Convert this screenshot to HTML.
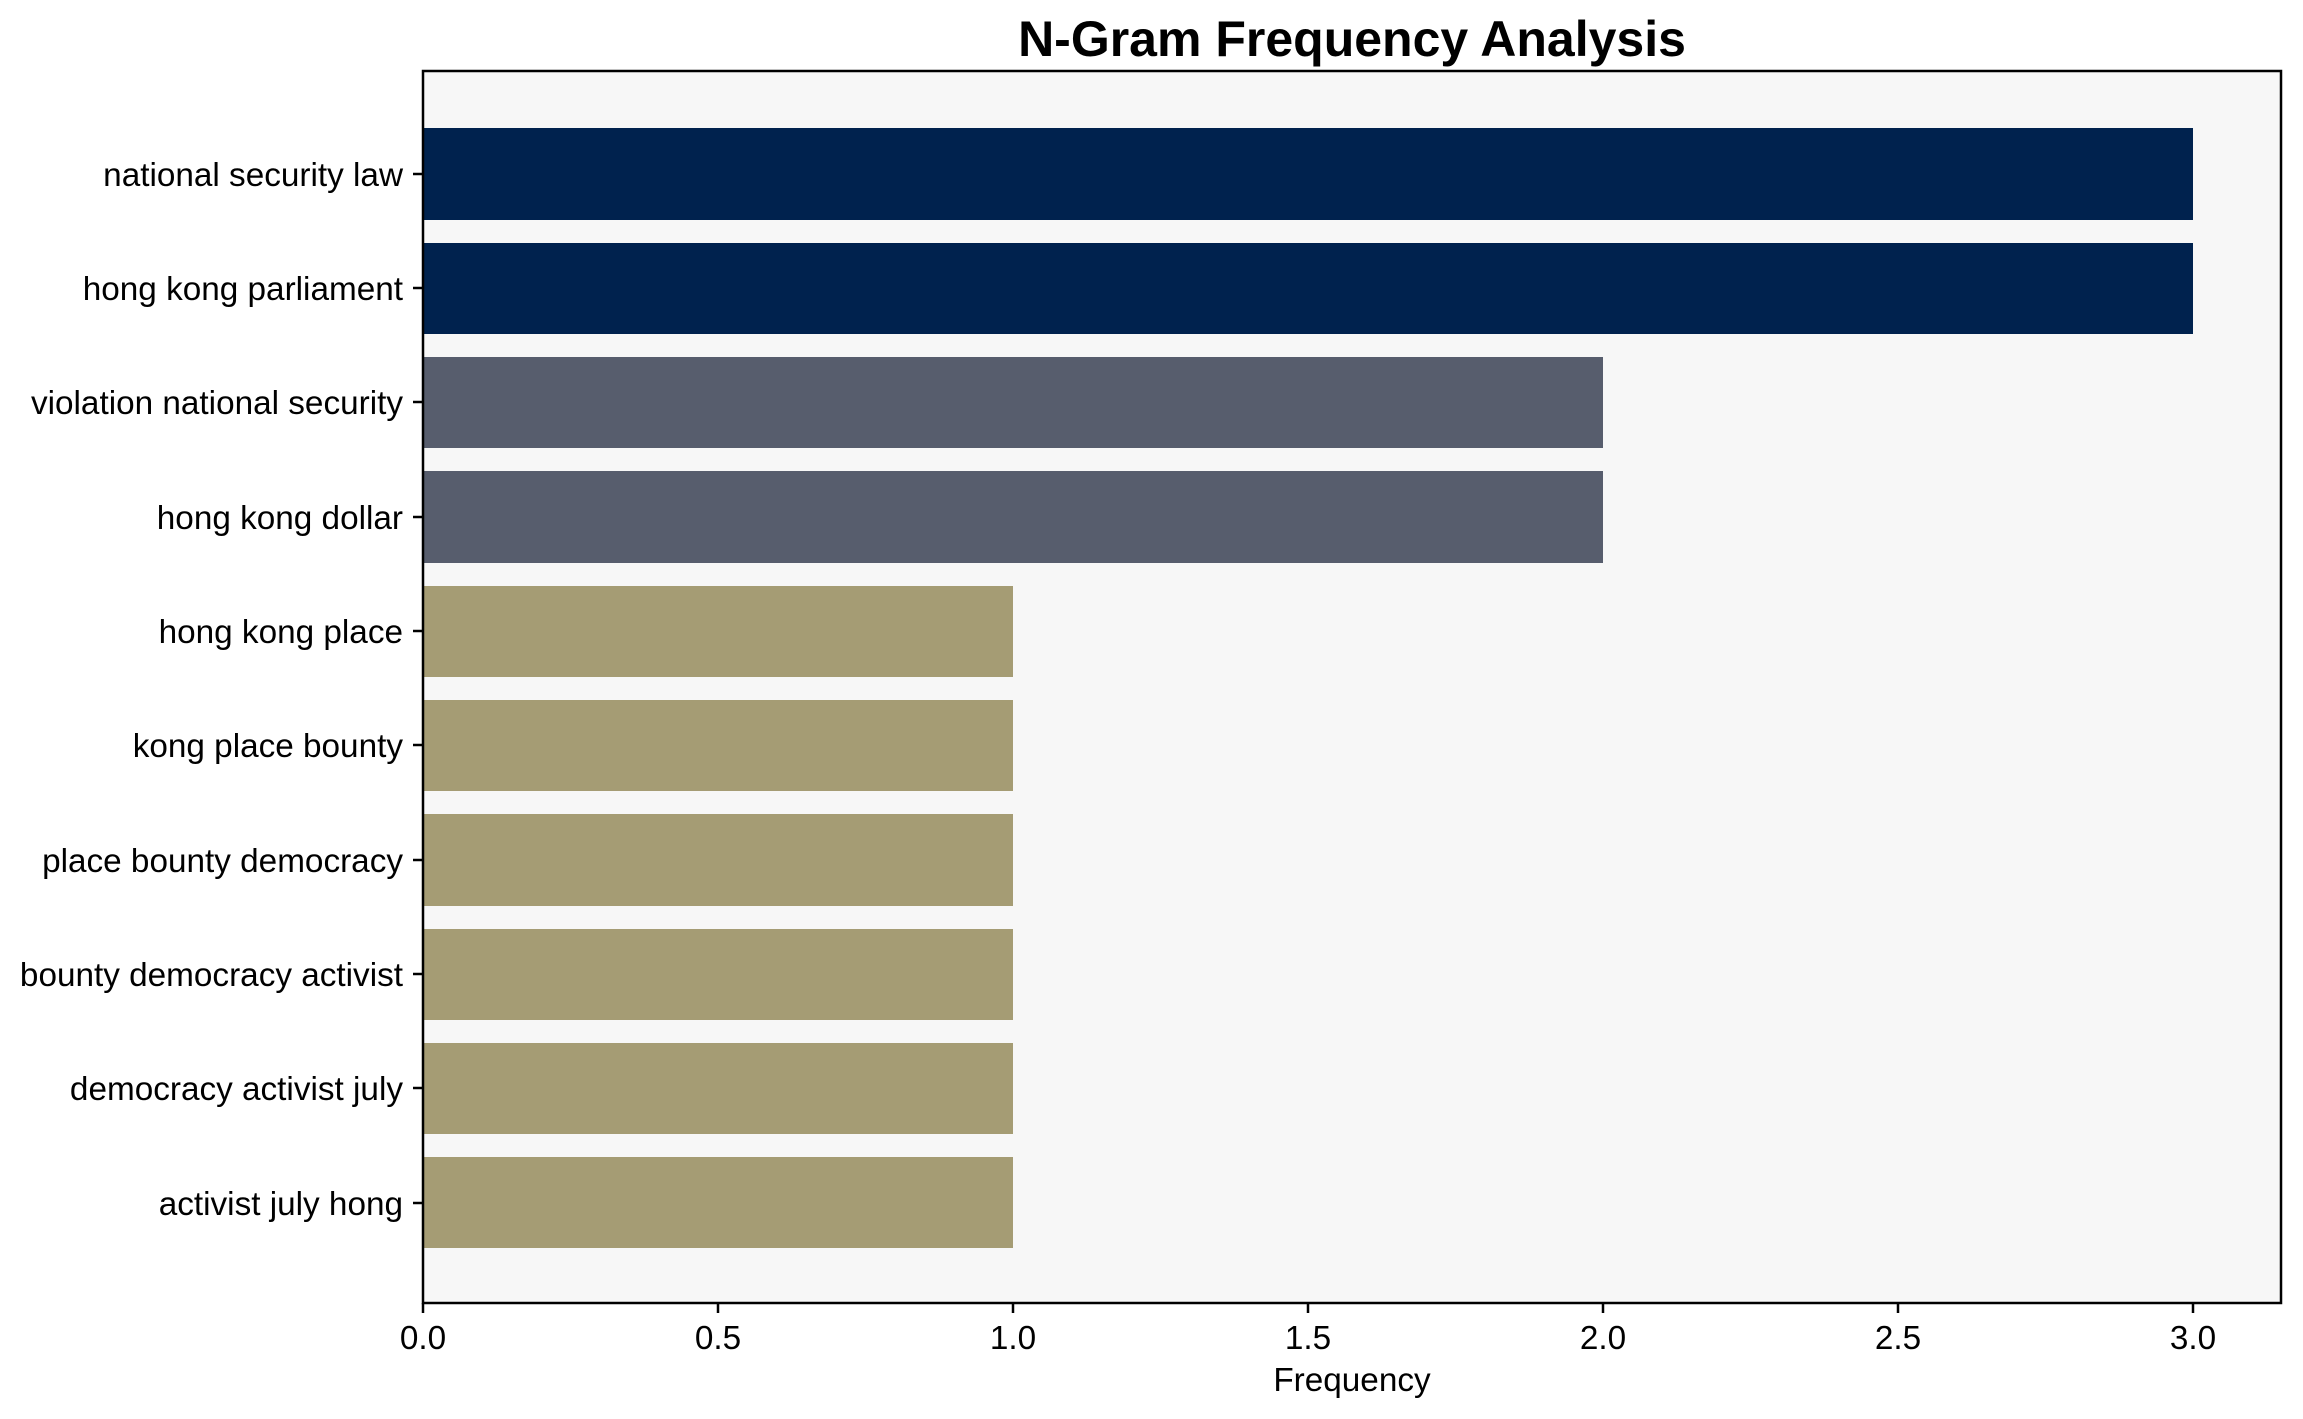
<!DOCTYPE html>
<html><head><meta charset="utf-8"><style>html,body{margin:0;padding:0;background:#fff}</style></head>
<body>
<svg width="2303" height="1414" xmlns="http://www.w3.org/2000/svg" font-family="Liberation Sans, Arial, sans-serif">
<rect x="0" y="0" width="2303" height="1414" fill="#fff"/>
<rect x="423" y="71" width="1858" height="1232" fill="#f7f7f7"/>
<g>
<rect x="423" y="128" width="1770" height="92" fill="#00224e"/>
<rect x="423" y="243" width="1770" height="91" fill="#00224e"/>
<rect x="423" y="357" width="1180" height="91" fill="#575d6d"/>
<rect x="423" y="471" width="1180" height="92" fill="#575d6d"/>
<rect x="423" y="586" width="590" height="91" fill="#a59c74"/>
<rect x="423" y="700" width="590" height="91" fill="#a59c74"/>
<rect x="423" y="814" width="590" height="92" fill="#a59c74"/>
<rect x="423" y="929" width="590" height="91" fill="#a59c74"/>
<rect x="423" y="1043" width="590" height="91" fill="#a59c74"/>
<rect x="423" y="1157" width="590" height="91" fill="#a59c74"/>
</g>
<rect x="423" y="71" width="1858" height="1232" fill="none" stroke="#000" stroke-width="2.5"/>
<g stroke="#000" stroke-width="2.5">
<line x1="413" x2="423" y1="174" y2="174"/><line x1="413" x2="423" y1="288" y2="288"/>
<line x1="413" x2="423" y1="402" y2="402"/><line x1="413" x2="423" y1="517" y2="517"/>
<line x1="413" x2="423" y1="631" y2="631"/><line x1="413" x2="423" y1="745" y2="745"/>
<line x1="413" x2="423" y1="860" y2="860"/><line x1="413" x2="423" y1="974" y2="974"/>
<line x1="413" x2="423" y1="1088" y2="1088"/><line x1="413" x2="423" y1="1203" y2="1203"/>
<line x1="423" x2="423" y1="1303" y2="1313"/><line x1="718" x2="718" y1="1303" y2="1313"/>
<line x1="1013" x2="1013" y1="1303" y2="1313"/><line x1="1308" x2="1308" y1="1303" y2="1313"/>
<line x1="1603" x2="1603" y1="1303" y2="1313"/><line x1="1898" x2="1898" y1="1303" y2="1313"/>
<line x1="2193" x2="2193" y1="1303" y2="1313"/>
</g>
<g font-size="33.3" text-anchor="end" fill="#000">
<text x="403" y="186">national security law</text>
<text x="403" y="300">hong kong parliament</text>
<text x="403" y="414">violation national security</text>
<text x="403" y="529">hong kong dollar</text>
<text x="403" y="643">hong kong place</text>
<text x="403" y="757">kong place bounty</text>
<text x="403" y="872">place bounty democracy</text>
<text x="403" y="986">bounty democracy activist</text>
<text x="403" y="1100">democracy activist july</text>
<text x="403" y="1215">activist july hong</text>
</g>
<g font-size="33.3" text-anchor="middle" fill="#000">
<text x="423" y="1349">0.0</text><text x="718" y="1349">0.5</text>
<text x="1013" y="1349">1.0</text><text x="1308" y="1349">1.5</text>
<text x="1603" y="1349">2.0</text><text x="1898" y="1349">2.5</text>
<text x="2193" y="1349">3.0</text>
<text x="1352" y="1391">Frequency</text>
<text x="1352" y="56" font-size="50" font-weight="bold">N-Gram Frequency Analysis</text>
</g>
</svg>
</body></html>
